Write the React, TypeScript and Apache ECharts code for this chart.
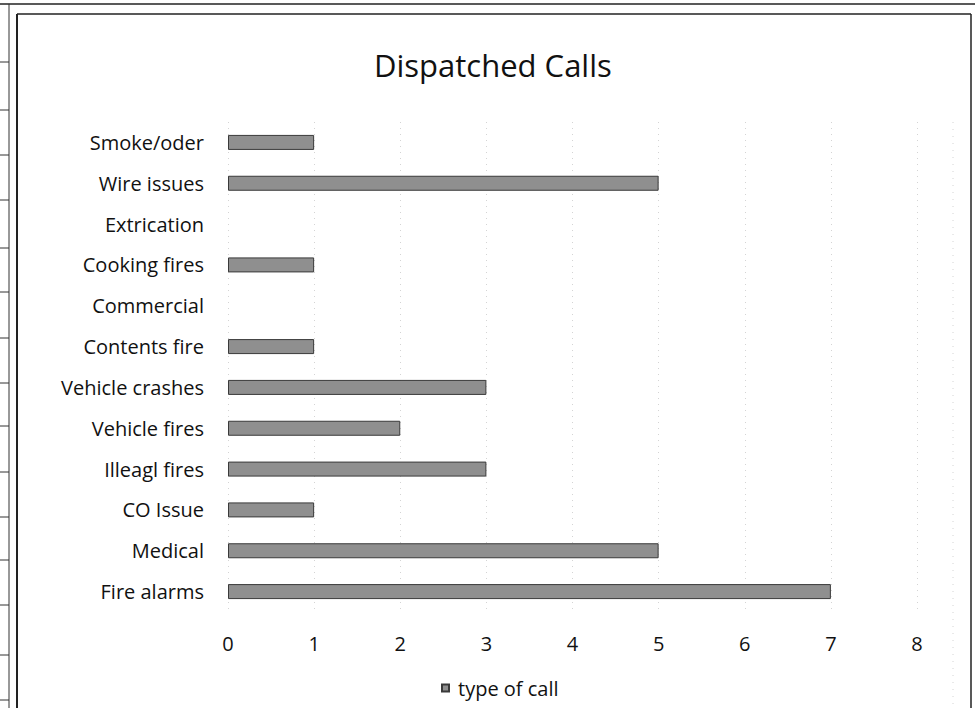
import React, { useEffect, useRef } from "react";
import * as echarts from "echarts";

const categories = [
  "Fire alarms",
  "Medical",
  "CO Issue",
  "Illeagl fires",
  "Vehicle fires",
  "Vehicle crashes",
  "Contents fire",
  "Commercial",
  "Cooking fires",
  "Extrication",
  "Wire issues",
  "Smoke/oder",
];
const values = [7, 5, 1, 3, 2, 3, 1, 0, 1, 0, 5, 1];
const seriesName = "type of call";
const titleText = "Dispatched Calls";
const tableRowYs = [62, 110, 155, 200, 248, 292, 338, 383, 426, 472, 517, 560, 605, 655, 700];

export default function App() {
  const ref = useRef<HTMLDivElement>(null);
  useEffect(() => {
    if (!ref.current) return;
    const chart = echarts.init(ref.current, null, { renderer: "svg" });
    const font = "'Open Sans', 'Noto Sans', sans-serif";
    const frame: any[] = [
      { type: "line", shape: { x1: 0, y1: 4, x2: 975, y2: 4 }, style: { stroke: "#222", lineWidth: 1.5 } },
      { type: "line", shape: { x1: 17, y1: 14, x2: 971, y2: 14 }, style: { stroke: "#222", lineWidth: 1.5 } },
      { type: "line", shape: { x1: 17, y1: 14, x2: 17, y2: 708 }, style: { stroke: "#222", lineWidth: 2 } },
      { type: "line", shape: { x1: 971, y1: 14, x2: 971, y2: 708 }, style: { stroke: "#222", lineWidth: 1.5 } },
      { type: "line", shape: { x1: 9, y1: 4, x2: 9, y2: 708 }, style: { stroke: "#333", lineWidth: 1 } },
      { type: "line", shape: { x1: 953, y1: 122, x2: 953, y2: 708 }, style: { stroke: "#d4d4d4", lineWidth: 1, lineDash: [1, 6] } },
    ];
    tableRowYs.forEach((y) => {
      frame.push({ type: "line", shape: { x1: 0, y1: y, x2: 9, y2: y }, style: { stroke: "#333", lineWidth: 1 } });
    });
    const barData = values.map((v) =>
      v === 0 ? { value: v, itemStyle: { borderWidth: 0, opacity: 0 } } : v
    );
    chart.setOption({
      animation: false,
      backgroundColor: "#ffffff",
      title: {
        text: titleText,
        left: 369,
        top: 44,
        textStyle: { fontFamily: font, fontSize: 31, fontWeight: "normal", color: "#111" },
      },
      legend: {
        bottom: 5,
        left: 436,
        itemWidth: 7,
        itemHeight: 7,
        itemGap: 10,
        icon: "rect",
        textStyle: { fontFamily: font, fontSize: 20, color: "#111", padding: [0, 0, 0, 4] },
        data: [seriesName],
      },
      grid: { left: 228, right: 58, top: 122, bottom: 96, containLabel: false },
      xAxis: {
        type: "value",
        min: 0,
        max: 8,
        interval: 1,
        axisLine: { show: false },
        axisTick: { show: false },
        axisLabel: { fontFamily: font, fontSize: 20, color: "#111", margin: 21 },
        splitLine: { show: true, lineStyle: { color: "#d4d4d4", type: [1, 5], width: 1 } },
      },
      yAxis: {
        type: "category",
        data: categories,
        axisLine: { show: false },
        axisTick: { show: false },
        axisLabel: { fontFamily: font, fontSize: 20, color: "#111", margin: 24 },
        splitLine: { show: false },
      },
      series: [
        {
          name: seriesName,
          type: "bar",
          data: barData,
          barWidth: 15,
          itemStyle: { color: "#8f8f8f", borderColor: "#3a3a3a", borderWidth: 1 },
        },
      ],
      graphic: frame,
    });
    return () => chart.dispose();
  }, []);
  return (
    <div
      ref={ref}
      style={{ position: "fixed", left: 0, top: 0, width: 975, height: 708 }}
    />
  );
}
